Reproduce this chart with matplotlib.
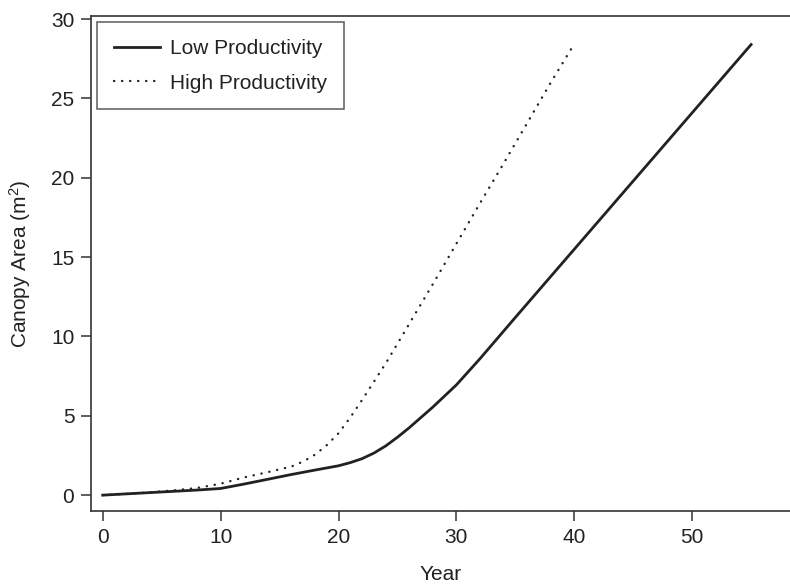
import matplotlib
matplotlib.use("Agg")
import matplotlib.pyplot as plt

plt.rcParams['font.family'] = ['Liberation Sans', 'DejaVu Sans']
plt.rcParams['mathtext.default'] = 'regular'

# Canopy area over time
low_years = [0, 2, 4, 6, 8, 10, 12, 14, 16, 18, 20, 21, 22, 23, 24, 25, 26, 27, 28,
             30, 32, 35, 40, 45, 50, 55]
low_area = [0, 0.08, 0.16, 0.24, 0.32, 0.42, 0.7, 1.0, 1.3, 1.58, 1.85, 2.05, 2.3, 2.65,
            3.1, 3.65, 4.25, 4.9, 5.55, 6.95, 8.6, 11.2, 15.5, 19.8, 24.1, 28.4]

high_years = [0, 2, 4, 6, 8, 10, 12, 14, 16, 17, 18, 19, 20, 21, 22, 23, 24, 26, 28,
              30, 32, 34, 36, 38, 39.8]
high_area = [0, 0.08, 0.18, 0.3, 0.45, 0.72, 1.12, 1.45, 1.8, 2.12, 2.55, 3.15, 3.9, 4.9,
             6.0, 7.15, 8.3, 10.8, 13.3, 15.85, 18.4, 20.9, 23.45, 26.0, 28.2]

x_ticks = [0, 10, 20, 30, 40, 50]
y_ticks = [0, 5, 10, 15, 20, 25, 30]

ink = '#222222'

fig = plt.figure(figsize=(7.9, 5.85), dpi=100)
ax = fig.add_axes([91 / 790, 74 / 585, 1 - 91 / 790, 495 / 585])

ax.plot(low_years, low_area, color=ink, lw=2.0, label='Low Productivity')
ax.plot(high_years, high_area, color=ink, lw=1.7, linestyle=(0, (0.1, 3.3)),
        dash_capstyle='round', label='High Productivity')

ax.set_xlim(-1.0, 58.3)
ax.set_ylim(-1.0, 30.2)
ax.set_xticks(x_ticks)
ax.set_yticks(y_ticks)

for side in ['left', 'bottom', 'top']:
    ax.spines[side].set_color('#333333')
    ax.spines[side].set_linewidth(1.2)
ax.spines['right'].set_visible(False)

ax.tick_params(direction='out', length=7, width=1.1, color='#333333',
               labelsize=15, labelcolor=ink, pad=5)

ax.set_xlabel('Year', fontsize=15, color=ink, labelpad=13)
ax.set_ylabel('Canopy Area (m$^{2}$)', fontsize=15, color=ink, labelpad=13)

leg = ax.legend(loc='upper left', fontsize=15, frameon=True, fancybox=False,
                edgecolor='#333333', borderaxespad=0.3, handlelength=2.2,
                handletextpad=0.5, borderpad=0.8, labelspacing=0.75)
leg.get_frame().set_linewidth(1.1)
for t in leg.get_texts():
    t.set_color(ink)

fig.savefig('out.png', dpi=100)
